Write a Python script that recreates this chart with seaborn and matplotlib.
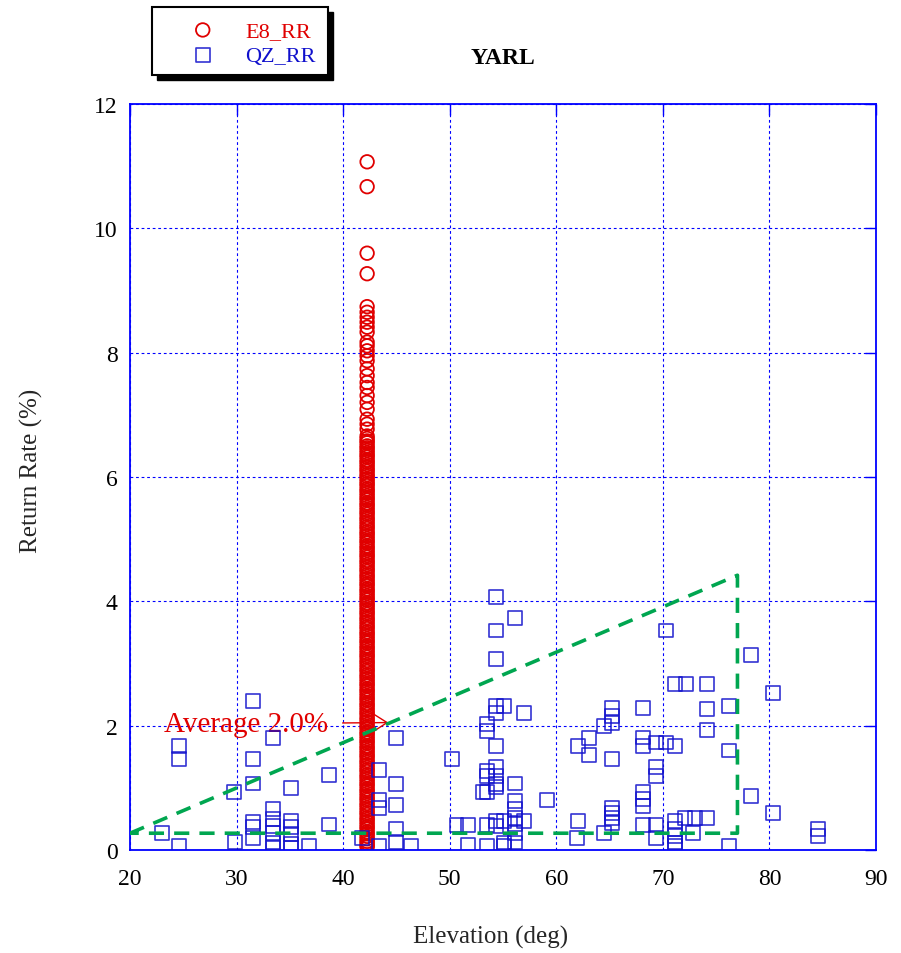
import matplotlib
matplotlib.use("Agg")
import matplotlib.pyplot as plt
import seaborn as sns
import pandas as pd
from matplotlib.patches import Rectangle

# ---- data -------------------------------------------------------------
# E8 return rate (%), satellite tracked at a near-constant elevation
E8_ELEVATION = 42.25
e8_rr = [
    11.07, 10.67, 9.60, 9.27, 8.74, 8.65, 8.57, 8.49, 8.41, 8.33, 8.17, 8.11,
    8.03, 7.95, 7.87, 7.74, 7.63, 7.52, 7.44, 7.31, 7.20, 7.09, 6.93, 6.85,
    6.77, 6.66, 6.62, 6.58, 6.55, 6.50, 6.47, 6.43, 6.39, 6.35, 6.32, 6.27,
    6.24, 6.20, 6.16, 6.12, 6.09, 6.04, 6.01, 5.97, 5.93, 5.89, 5.86, 5.81,
    5.78, 5.74, 5.70, 5.66, 5.63, 5.58, 5.55, 5.51, 5.47, 5.43, 5.40, 5.35,
    5.32, 5.28, 5.24, 5.20, 5.17, 5.12, 5.09, 5.05, 5.01, 4.97, 4.94, 4.89,
    4.86, 4.82, 4.78, 4.74, 4.71, 4.66, 4.63, 4.59, 4.55, 4.51, 4.48, 4.43,
    4.40, 4.36, 4.32, 4.28, 4.25, 4.20, 4.17, 4.13, 4.09, 4.05, 4.02, 3.97,
    3.94, 3.90, 3.86, 3.82, 3.79, 3.74, 3.71, 3.67, 3.63, 3.59, 3.56, 3.51,
    3.48, 3.44, 3.40, 3.36, 3.33, 3.28, 3.25, 3.21, 3.17, 3.13, 3.10, 3.05,
    3.02, 2.98, 2.94, 2.90, 2.87, 2.82, 2.79, 2.75, 2.71, 2.67, 2.64, 2.59,
    2.56, 2.52, 2.48, 2.44, 2.41, 2.36, 2.33, 2.29, 2.25, 2.21, 2.18, 2.13,
    2.10, 2.06, 2.02, 1.98, 1.95, 1.90, 1.87, 1.83, 1.79, 1.75, 1.72, 1.67,
    1.64, 1.60, 1.56, 1.52, 1.49, 1.44, 1.41, 1.37, 1.33, 1.29, 1.26, 1.21,
    1.18, 1.14, 1.10, 1.06, 1.03, 0.98, 0.95, 0.91, 0.87, 0.83, 0.80, 0.75,
    0.72, 0.68, 0.64, 0.60, 0.57, 0.52, 0.49, 0.45, 0.41, 0.37, 0.34, 0.29,
    0.26, 0.22, 0.18, 0.14, 0.11, 0.07, 0.05,
]

# QZ return rate (%) against elevation (deg)
qz_elev = [
    22.97, 24.63, 24.63, 24.63, 29.76, 29.85,
    31.51, 31.51, 31.51, 31.57, 31.57, 31.57,
    33.39, 33.39, 33.39, 33.39, 33.39, 33.39, 33.39,
    35.11, 35.11, 35.11, 35.11, 35.11, 35.11, 36.82, 38.65, 38.65, 41.80,
    43.37, 43.37, 43.37, 43.37, 44.93, 44.93, 44.93, 44.93, 44.93, 46.33,
    50.18, 50.64, 51.68, 51.68, 53.09,
    53.47, 53.47, 53.47, 53.47, 53.47, 53.47, 53.47,
    54.31, 54.31, 54.31, 54.31, 54.31, 54.31, 54.31, 54.31, 54.31, 54.31,
    54.31, 54.31, 55.09, 55.09, 55.09, 55.09,
    56.15, 56.15, 56.15, 56.15, 56.15, 56.15, 56.15, 56.15, 56.93, 56.93,
    59.09, 61.92, 62.07, 62.07, 63.10, 63.10, 64.48, 64.48,
    65.20, 65.20, 65.20, 65.20, 65.20, 65.20, 65.20, 65.20,
    68.17, 68.17, 68.17, 68.17, 68.17, 68.17, 68.17,
    69.36, 69.36, 69.36, 69.36, 69.36, 70.29, 70.29,
    71.14, 71.14, 71.14, 71.14, 71.14, 71.14, 71.14,
    72.17, 72.08, 72.86, 73.02, 74.11, 74.11, 74.11, 74.11,
    76.20, 76.20, 76.20, 78.27, 78.27, 80.36, 80.36, 84.53, 84.53,
]
qz_rr = [
    0.27, 1.68, 1.46, 0.07, 0.93, 0.13,
    2.40, 1.46, 1.07, 0.45, 0.37, 0.20,
    1.80, 0.66, 0.50, 0.39, 0.28, 0.12, 0.04,
    1.00, 0.47, 0.37, 0.26, 0.10, 0.04, 0.07, 1.20, 0.41, 0.20,
    1.28, 0.80, 0.67, 0.07, 1.80, 1.06, 0.72, 0.34, 0.13, 0.07,
    1.46, 0.40, 0.40, 0.08, 0.93,
    2.03, 1.92, 1.27, 1.19, 0.93, 0.40, 0.07,
    4.07, 3.53, 3.07, 2.32, 2.20, 1.67, 1.33, 1.19, 1.06, 1.01,
    0.47, 0.39, 2.32, 0.47, 0.12, 0.07,
    3.73, 1.07, 0.79, 0.66, 0.52, 0.42, 0.28, 0.12, 2.20, 0.47,
    0.80, 0.20, 1.68, 0.47, 1.80, 1.53, 2.00, 0.27,
    2.28, 2.16, 2.05, 1.47, 0.67, 0.60, 0.52, 0.44,
    2.28, 1.81, 1.68, 0.94, 0.82, 0.71, 0.40,
    1.73, 1.33, 1.19, 0.40, 0.20, 3.53, 1.73,
    2.67, 1.68, 0.47, 0.34, 0.23, 0.12, 0.06,
    2.67, 0.52, 0.27, 0.52, 2.67, 2.27, 1.93, 0.52,
    2.32, 1.60, 0.07, 3.13, 0.87, 2.52, 0.60, 0.34, 0.23,
]

# dashed triangle outlining the QZ spread
tri_elev = [20.0, 77.0, 77.0, 20.0]
tri_rr = [0.27, 4.42, 0.27, 0.27]

AVERAGE_RR = 2.0
x_ticks = [20, 30, 40, 50, 60, 70, 80, 90]
y_ticks = [0, 2, 4, 6, 8, 10, 12]

RED = "#e00000"
BLUE = "#1010cc"
GREEN = "#00a650"

# ---- style ------------------------------------------------------------
sns.set_style("white")
plt.rcParams["font.family"] = ["Liberation Serif", "DejaVu Serif"]

W, H = 901, 954
fig = plt.figure(figsize=(W / 100, H / 100), dpi=100)
ax = fig.add_axes([130 / W, 1 - 851 / H, 746 / W, 746 / H])

e8 = pd.DataFrame({"elev": E8_ELEVATION, "rr": e8_rr})
qz = pd.DataFrame({"elev": qz_elev, "rr": qz_rr})

sns.scatterplot(data=e8, x="elev", y="rr", ax=ax, marker="o", s=95,
                facecolor="none", edgecolor=RED, linewidth=1.3,
                zorder=2, label="E8_RR")
sns.scatterplot(data=qz, x="elev", y="rr", ax=ax, marker="s", s=100,
                facecolor="none", edgecolor=BLUE, linewidth=1.2, alpha=0.85,
                zorder=3, label="QZ_RR")

ax.plot(tri_elev, tri_rr, color=GREEN, lw=2.6, dashes=(4.2, 2.8), zorder=4)

ax.annotate(f"Average {AVERAGE_RR:.1f}%", xy=(44.24, 2.05), xytext=(30.9, 2.03),
            ha="center", va="center", color=RED, fontsize=21, zorder=1,
            arrowprops=dict(arrowstyle="->,head_length=0.7,head_width=0.45",
                            mutation_scale=15, color=RED, lw=1.0,
                            shrinkA=8, shrinkB=0))

ax.set_xlim(20, 90)
ax.set_ylim(0, 12)
ax.set_xticks(x_ticks)
ax.set_yticks(y_ticks)
ax.set_axisbelow(True)
ax.grid(True, color="blue", linestyle=(0, (2.5, 2.5)), linewidth=0.8)
for sp in ax.spines.values():
    sp.set_color("blue")
    sp.set_linewidth(1.3)
ax.tick_params(axis="both", direction="in", length=8, width=1.0, color="blue",
               top=True, right=True, labelsize=17, labelcolor="black")
ax.tick_params(axis="x", pad=13)
ax.tick_params(axis="y", pad=9)

ax.set_xlabel("Elevation (deg)", fontsize=18)
ax.xaxis.set_label_coords(0.483, -0.100)
ax.set_ylabel("Return Rate (%)", fontsize=18)
ax.yaxis.set_label_coords(-0.117, 0.509)

# legend box with a solid drop shadow, outside the axes
bx, by, bw, bh = 152 / W, 1 - 76 / H, 176 / W, 68 / H
fig.patches.append(Rectangle((bx + 5 / W, by - 5 / H), bw, bh, transform=fig.transFigure,
                             facecolor="black", edgecolor="black", zorder=5))
fig.patches.append(Rectangle((bx, by), bw, bh, transform=fig.transFigure,
                             facecolor="white", edgecolor="black", lw=1.5, zorder=6))
handles, labels = ax.get_legend_handles_labels()
leg = fig.legend(handles, labels, loc="center", bbox_to_anchor=(248 / W, 1 - 44 / H),
                 frameon=False, fontsize=16, labelcolor=[RED, BLUE],
                 handletextpad=0.9, labelspacing=0.2, borderaxespad=0)
leg.set_zorder(7)
if ax.get_legend() is not None:
    ax.get_legend().remove()

fig.text(503 / W, 1 - 58 / H, "YARL", ha="center", va="center",
         fontsize=17, fontweight="bold", color="black")

fig.savefig("out.png", dpi=100)
